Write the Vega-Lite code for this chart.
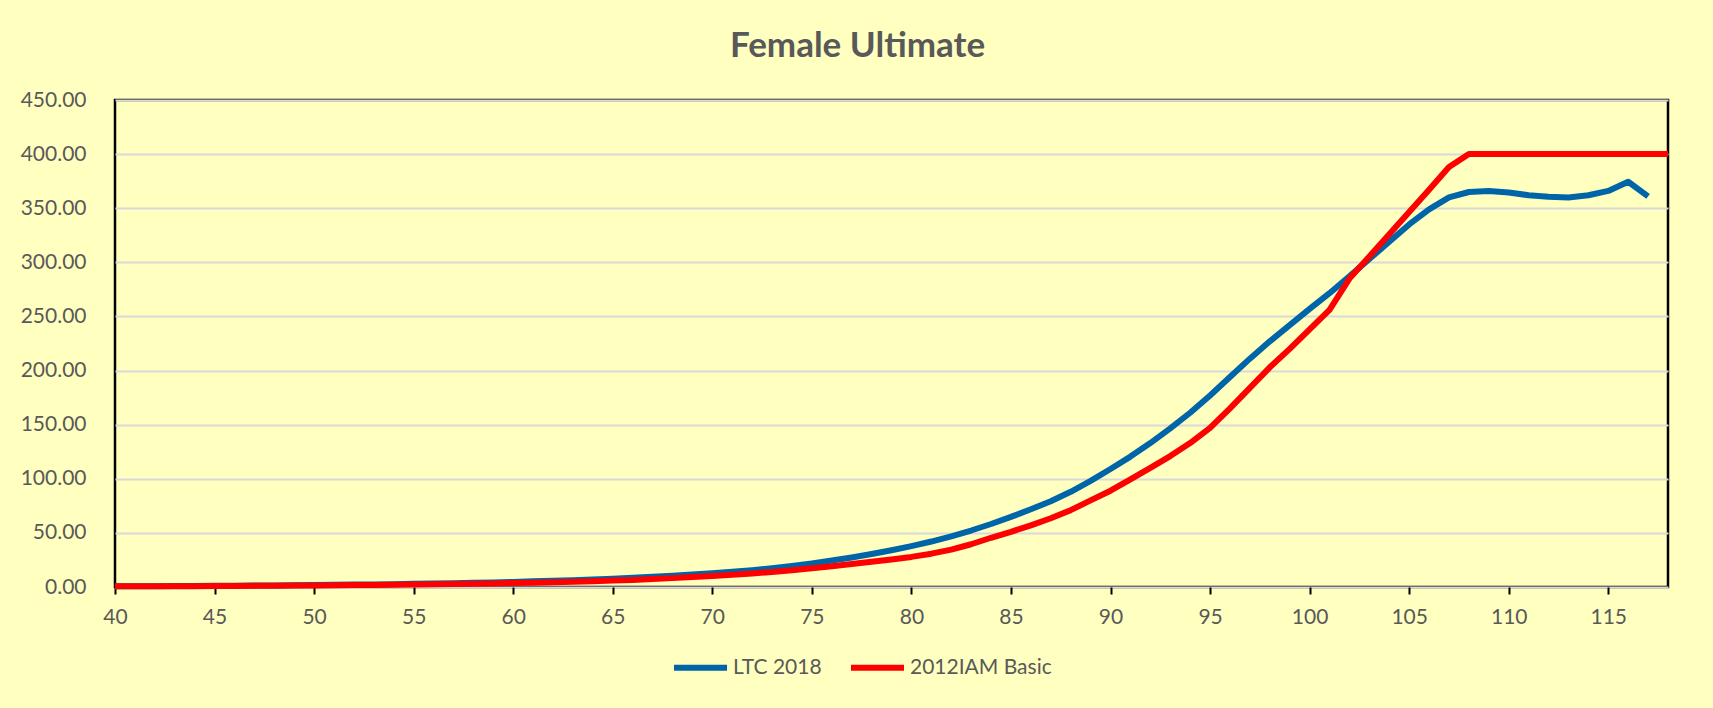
{
  "$schema": "https://vega.github.io/schema/vega-lite/v6.json",
  "width": 1553,
  "height": 487,
  "autosize": "none",
  "padding": {"left": 115, "top": 100, "right": 45, "bottom": 121},
  "background": "#FFFFC0",
  "title": {
    "text": "Female Ultimate",
    "anchor": "middle",
    "frame": "group",
    "dx": -34,
    "offset": 25,
    "font": "Lato",
    "fontSize": 35,
    "fontWeight": "bold",
    "color": "#595959"
  },
  "config": {
    "view": {"stroke": "#000000", "strokeWidth": 2.5, "fill": "#FFFFC0"},
    "axis": {"labelFont": "Lato", "labelFontSize": 21, "labelColor": "#595959", "domain": false, "title": null},
    "legend": {"labelFont": "Lato", "labelFontSize": 21, "labelColor": "#595959"}
  },
  "data": {
    "values": [
      {"age":40,"series":"LTC 2018","value":0.7},{"age":41,"series":"LTC 2018","value":0.75},{"age":42,"series":"LTC 2018","value":0.8},{"age":43,"series":"LTC 2018","value":0.9},{"age":44,"series":"LTC 2018","value":1.0},
      {"age":45,"series":"LTC 2018","value":1.1},{"age":46,"series":"LTC 2018","value":1.2},{"age":47,"series":"LTC 2018","value":1.35},{"age":48,"series":"LTC 2018","value":1.5},{"age":49,"series":"LTC 2018","value":1.65},
      {"age":50,"series":"LTC 2018","value":1.8},{"age":51,"series":"LTC 2018","value":2.0},{"age":52,"series":"LTC 2018","value":2.2},{"age":53,"series":"LTC 2018","value":2.4},{"age":54,"series":"LTC 2018","value":2.65},
      {"age":55,"series":"LTC 2018","value":2.9},{"age":56,"series":"LTC 2018","value":3.2},{"age":57,"series":"LTC 2018","value":3.5},{"age":58,"series":"LTC 2018","value":3.85},{"age":59,"series":"LTC 2018","value":4.25},
      {"age":60,"series":"LTC 2018","value":4.7},{"age":61,"series":"LTC 2018","value":5.2},{"age":62,"series":"LTC 2018","value":5.75},{"age":63,"series":"LTC 2018","value":6.35},{"age":64,"series":"LTC 2018","value":7.0},
      {"age":65,"series":"LTC 2018","value":7.7},{"age":66,"series":"LTC 2018","value":8.5},{"age":67,"series":"LTC 2018","value":9.4},{"age":68,"series":"LTC 2018","value":10.4},{"age":69,"series":"LTC 2018","value":11.5},
      {"age":70,"series":"LTC 2018","value":12.7},{"age":71,"series":"LTC 2018","value":14.0},{"age":72,"series":"LTC 2018","value":15.6},{"age":73,"series":"LTC 2018","value":17.4},{"age":74,"series":"LTC 2018","value":19.5},
      {"age":75,"series":"LTC 2018","value":21.8},{"age":76,"series":"LTC 2018","value":24.4},{"age":77,"series":"LTC 2018","value":27.3},{"age":78,"series":"LTC 2018","value":30.5},{"age":79,"series":"LTC 2018","value":34.0},
      {"age":80,"series":"LTC 2018","value":37.8},{"age":81,"series":"LTC 2018","value":42.0},{"age":82,"series":"LTC 2018","value":46.8},{"age":83,"series":"LTC 2018","value":52.2},{"age":84,"series":"LTC 2018","value":58.2},
      {"age":85,"series":"LTC 2018","value":64.8},{"age":86,"series":"LTC 2018","value":71.8},{"age":87,"series":"LTC 2018","value":79.3},{"age":88,"series":"LTC 2018","value":88},{"age":89,"series":"LTC 2018","value":98},
      {"age":90,"series":"LTC 2018","value":109},{"age":91,"series":"LTC 2018","value":120.5},{"age":92,"series":"LTC 2018","value":133},{"age":93,"series":"LTC 2018","value":146.5},{"age":94,"series":"LTC 2018","value":161},
      {"age":95,"series":"LTC 2018","value":177},{"age":96,"series":"LTC 2018","value":194},{"age":97,"series":"LTC 2018","value":211},{"age":98,"series":"LTC 2018","value":227},{"age":99,"series":"LTC 2018","value":242},
      {"age":100,"series":"LTC 2018","value":257},{"age":101,"series":"LTC 2018","value":271.5},{"age":102,"series":"LTC 2018","value":287},{"age":103,"series":"LTC 2018","value":303},{"age":104,"series":"LTC 2018","value":319},
      {"age":105,"series":"LTC 2018","value":335},{"age":106,"series":"LTC 2018","value":349},{"age":107,"series":"LTC 2018","value":360},{"age":108,"series":"LTC 2018","value":365},{"age":109,"series":"LTC 2018","value":366},
      {"age":110,"series":"LTC 2018","value":364.5},{"age":111,"series":"LTC 2018","value":362},{"age":112,"series":"LTC 2018","value":360.5},{"age":113,"series":"LTC 2018","value":360},{"age":114,"series":"LTC 2018","value":362},
      {"age":115,"series":"LTC 2018","value":366},{"age":116,"series":"LTC 2018","value":374.5},{"age":117,"series":"LTC 2018","value":361},
      {"age":40,"series":"2012IAM Basic","value":0.6},{"age":41,"series":"2012IAM Basic","value":0.65},{"age":42,"series":"2012IAM Basic","value":0.7},{"age":43,"series":"2012IAM Basic","value":0.75},{"age":44,"series":"2012IAM Basic","value":0.8},
      {"age":45,"series":"2012IAM Basic","value":0.9},{"age":46,"series":"2012IAM Basic","value":1.0},{"age":47,"series":"2012IAM Basic","value":1.1},{"age":48,"series":"2012IAM Basic","value":1.2},{"age":49,"series":"2012IAM Basic","value":1.3},
      {"age":50,"series":"2012IAM Basic","value":1.45},{"age":51,"series":"2012IAM Basic","value":1.6},{"age":52,"series":"2012IAM Basic","value":1.75},{"age":53,"series":"2012IAM Basic","value":1.9},{"age":54,"series":"2012IAM Basic","value":2.1},
      {"age":55,"series":"2012IAM Basic","value":2.3},{"age":56,"series":"2012IAM Basic","value":2.5},{"age":57,"series":"2012IAM Basic","value":2.75},{"age":58,"series":"2012IAM Basic","value":3.0},{"age":59,"series":"2012IAM Basic","value":3.3},
      {"age":60,"series":"2012IAM Basic","value":3.65},{"age":61,"series":"2012IAM Basic","value":4.0},{"age":62,"series":"2012IAM Basic","value":4.4},{"age":63,"series":"2012IAM Basic","value":4.85},{"age":64,"series":"2012IAM Basic","value":5.35},
      {"age":65,"series":"2012IAM Basic","value":5.9},{"age":66,"series":"2012IAM Basic","value":6.5},{"age":67,"series":"2012IAM Basic","value":7.3},{"age":68,"series":"2012IAM Basic","value":8.2},{"age":69,"series":"2012IAM Basic","value":9.2},
      {"age":70,"series":"2012IAM Basic","value":10.2},{"age":71,"series":"2012IAM Basic","value":11.3},{"age":72,"series":"2012IAM Basic","value":12.5},{"age":73,"series":"2012IAM Basic","value":13.9},{"age":74,"series":"2012IAM Basic","value":15.5},
      {"age":75,"series":"2012IAM Basic","value":17.3},{"age":76,"series":"2012IAM Basic","value":19.2},{"age":77,"series":"2012IAM Basic","value":21.2},{"age":78,"series":"2012IAM Basic","value":23.3},{"age":79,"series":"2012IAM Basic","value":25.5},
      {"age":80,"series":"2012IAM Basic","value":27.8},{"age":81,"series":"2012IAM Basic","value":30.8},{"age":82,"series":"2012IAM Basic","value":34.5},{"age":83,"series":"2012IAM Basic","value":39.5},{"age":84,"series":"2012IAM Basic","value":45.5},
      {"age":85,"series":"2012IAM Basic","value":51},{"age":86,"series":"2012IAM Basic","value":57},{"age":87,"series":"2012IAM Basic","value":63.5},{"age":88,"series":"2012IAM Basic","value":71},{"age":89,"series":"2012IAM Basic","value":80},
      {"age":90,"series":"2012IAM Basic","value":89},{"age":91,"series":"2012IAM Basic","value":99.5},{"age":92,"series":"2012IAM Basic","value":110},{"age":93,"series":"2012IAM Basic","value":121},{"age":94,"series":"2012IAM Basic","value":133},
      {"age":95,"series":"2012IAM Basic","value":147},{"age":96,"series":"2012IAM Basic","value":165},{"age":97,"series":"2012IAM Basic","value":184},{"age":98,"series":"2012IAM Basic","value":203},{"age":99,"series":"2012IAM Basic","value":220},
      {"age":100,"series":"2012IAM Basic","value":238},{"age":101,"series":"2012IAM Basic","value":256},{"age":102,"series":"2012IAM Basic","value":285},{"age":103,"series":"2012IAM Basic","value":305.5},{"age":104,"series":"2012IAM Basic","value":326},
      {"age":105,"series":"2012IAM Basic","value":346.5},{"age":106,"series":"2012IAM Basic","value":367},{"age":107,"series":"2012IAM Basic","value":388},{"age":108,"series":"2012IAM Basic","value":400},{"age":109,"series":"2012IAM Basic","value":400},
      {"age":110,"series":"2012IAM Basic","value":400},{"age":111,"series":"2012IAM Basic","value":400},{"age":112,"series":"2012IAM Basic","value":400},{"age":113,"series":"2012IAM Basic","value":400},{"age":114,"series":"2012IAM Basic","value":400},
      {"age":115,"series":"2012IAM Basic","value":400},{"age":116,"series":"2012IAM Basic","value":400},{"age":117,"series":"2012IAM Basic","value":400},{"age":118,"series":"2012IAM Basic","value":400}
    ]
  },
  "mark": {"type": "line", "strokeWidth": 6, "strokeJoin": "round", "clip": false},
  "encoding": {
    "x": {
      "field": "age",
      "type": "quantitative",
      "scale": {"domain": [40, 118], "nice": false, "zero": false},
      "axis": {
        "values": [40, 45, 50, 55, 60, 65, 70, 75, 80, 85, 90, 95, 100, 105, 110, 115],
        "grid": false,
        "ticks": true,
        "tickSize": 7,
        "tickWidth": 2,
        "tickColor": "#000000",
        "labelPadding": 12,
        "labelFlush": false
      }
    },
    "y": {
      "field": "value",
      "type": "quantitative",
      "scale": {"domain": [0, 450], "nice": false},
      "axis": {
        "values": [0, 50, 100, 150, 200, 250, 300, 350, 400, 450],
        "format": ".2f",
        "grid": true,
        "gridColor": "#D9D9D9",
        "gridWidth": 2,
        "ticks": false,
        "labelPadding": 29
      }
    },
    "color": {
      "field": "series",
      "type": "nominal",
      "scale": {"domain": ["LTC 2018", "2012IAM Basic"], "range": ["#0065A8", "#FF0000"]},
      "legend": {
        "title": null,
        "orient": "none",
        "direction": "horizontal",
        "legendX": 556,
        "legendY": 538,
        "symbolType": "stroke",
        "symbolSize": 2809,
        "symbolStrokeWidth": 6,
        "labelOffset": 3,
        "columnPadding": 17
      }
    }
  }
}
